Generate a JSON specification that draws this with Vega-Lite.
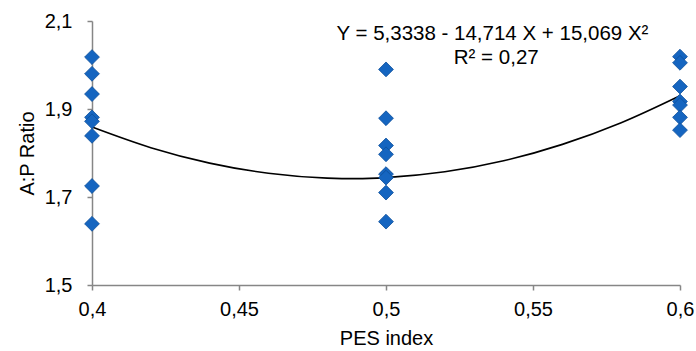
{
  "$schema": "https://vega.github.io/schema/vega-lite/v6.json",
  "width": 588,
  "height": 264,
  "autosize": {"type": "none"},
  "padding": {"left": 92, "top": 21, "right": 16, "bottom": 66},
  "background": "white",
  "config": {
    "view": {"stroke": null},
    "font": "Liberation Sans",
    "axis": {
      "grid": false,
      "labelFlush": false,
      "labelOverlap": false,
      "domainColor": "#868686",
      "domainWidth": 1.5,
      "tickColor": "#868686",
      "tickWidth": 1.5,
      "tickSize": 5,
      "labelFont": "Liberation Sans",
      "labelFontSize": 20,
      "labelColor": "#000000",
      "titleFont": "Liberation Sans",
      "titleFontSize": 20,
      "titleFontWeight": "normal",
      "titleColor": "#000000"
    }
  },
  "datasets": {
    "pts": [
      {"pes": 0.4, "ap": 2.018},
      {"pes": 0.4, "ap": 1.980},
      {"pes": 0.4, "ap": 1.934},
      {"pes": 0.4, "ap": 1.881},
      {"pes": 0.4, "ap": 1.872},
      {"pes": 0.4, "ap": 1.839},
      {"pes": 0.4, "ap": 1.725},
      {"pes": 0.4, "ap": 1.639},
      {"pes": 0.5, "ap": 1.990},
      {"pes": 0.5, "ap": 1.879},
      {"pes": 0.5, "ap": 1.817},
      {"pes": 0.5, "ap": 1.797},
      {"pes": 0.5, "ap": 1.752},
      {"pes": 0.5, "ap": 1.744},
      {"pes": 0.5, "ap": 1.710},
      {"pes": 0.5, "ap": 1.644},
      {"pes": 0.6, "ap": 2.019},
      {"pes": 0.6, "ap": 2.005},
      {"pes": 0.6, "ap": 1.951},
      {"pes": 0.6, "ap": 1.917},
      {"pes": 0.6, "ap": 1.909},
      {"pes": 0.6, "ap": 1.881},
      {"pes": 0.6, "ap": 1.852}
    ],
    "fit": [
      {"pes": 0.40, "ap": 1.8590},
      {"pes": 0.42, "ap": 1.8121},
      {"pes": 0.44, "ap": 1.7770},
      {"pes": 0.46, "ap": 1.7540},
      {"pes": 0.48, "ap": 1.7430},
      {"pes": 0.49, "ap": 1.7418},
      {"pes": 0.50, "ap": 1.7441},
      {"pes": 0.52, "ap": 1.7572},
      {"pes": 0.54, "ap": 1.7823},
      {"pes": 0.56, "ap": 1.8196},
      {"pes": 0.58, "ap": 1.8689},
      {"pes": 0.60, "ap": 1.9302}
    ]
  },
  "layer": [
    {
      "data": {"name": "fit"},
      "mark": {"type": "line", "color": "#000000", "strokeWidth": 1.6, "interpolate": "monotone"},
      "encoding": {
        "x": {
          "field": "pes", "type": "quantitative",
          "scale": {"domain": [0.4, 0.6], "nice": false, "zero": false},
          "axis": {"values": [0.4, 0.45, 0.5, 0.55, 0.6], "labelExpr": "replace(format(datum.value, '~g'), '.', ',')", "title": "PES index", "labelPadding": 9, "titlePadding": 9}
        },
        "y": {
          "field": "ap", "type": "quantitative",
          "scale": {"domain": [1.5, 2.1], "nice": false, "zero": false},
          "axis": {"values": [1.5, 1.7, 1.9, 2.1], "labelExpr": "replace(format(datum.value, '.1f'), '.', ',')", "title": "A:P Ratio", "labelPadding": 15, "titlePadding": 7}
        }
      }
    },
    {
      "data": {"name": "pts"},
      "mark": {"type": "point", "shape": "diamond", "filled": true, "size": 220, "color": "#1565C0", "stroke": "#0D4F9A", "strokeWidth": 0.8, "opacity": 1},
      "encoding": {
        "x": {"field": "pes", "type": "quantitative"},
        "y": {"field": "ap", "type": "quantitative"}
      }
    },
    {
      "data": {"values": [{"t": "Y = 5,3338 - 14,714 X + 15,069 X²"}]},
      "mark": {"type": "text", "fontSize": 20.5, "color": "#000000", "align": "center", "baseline": "middle"},
      "encoding": {
        "x": {"datum": 0.5362, "type": "quantitative"},
        "y": {"datum": 2.0715, "type": "quantitative"},
        "text": {"field": "t"}
      }
    },
    {
      "data": {"values": [{"t": "R² = 0,27"}]},
      "mark": {"type": "text", "fontSize": 20.5, "color": "#000000", "align": "center", "baseline": "middle"},
      "encoding": {
        "x": {"datum": 0.5375, "type": "quantitative"},
        "y": {"datum": 2.016, "type": "quantitative"},
        "text": {"field": "t"}
      }
    }
  ]
}
